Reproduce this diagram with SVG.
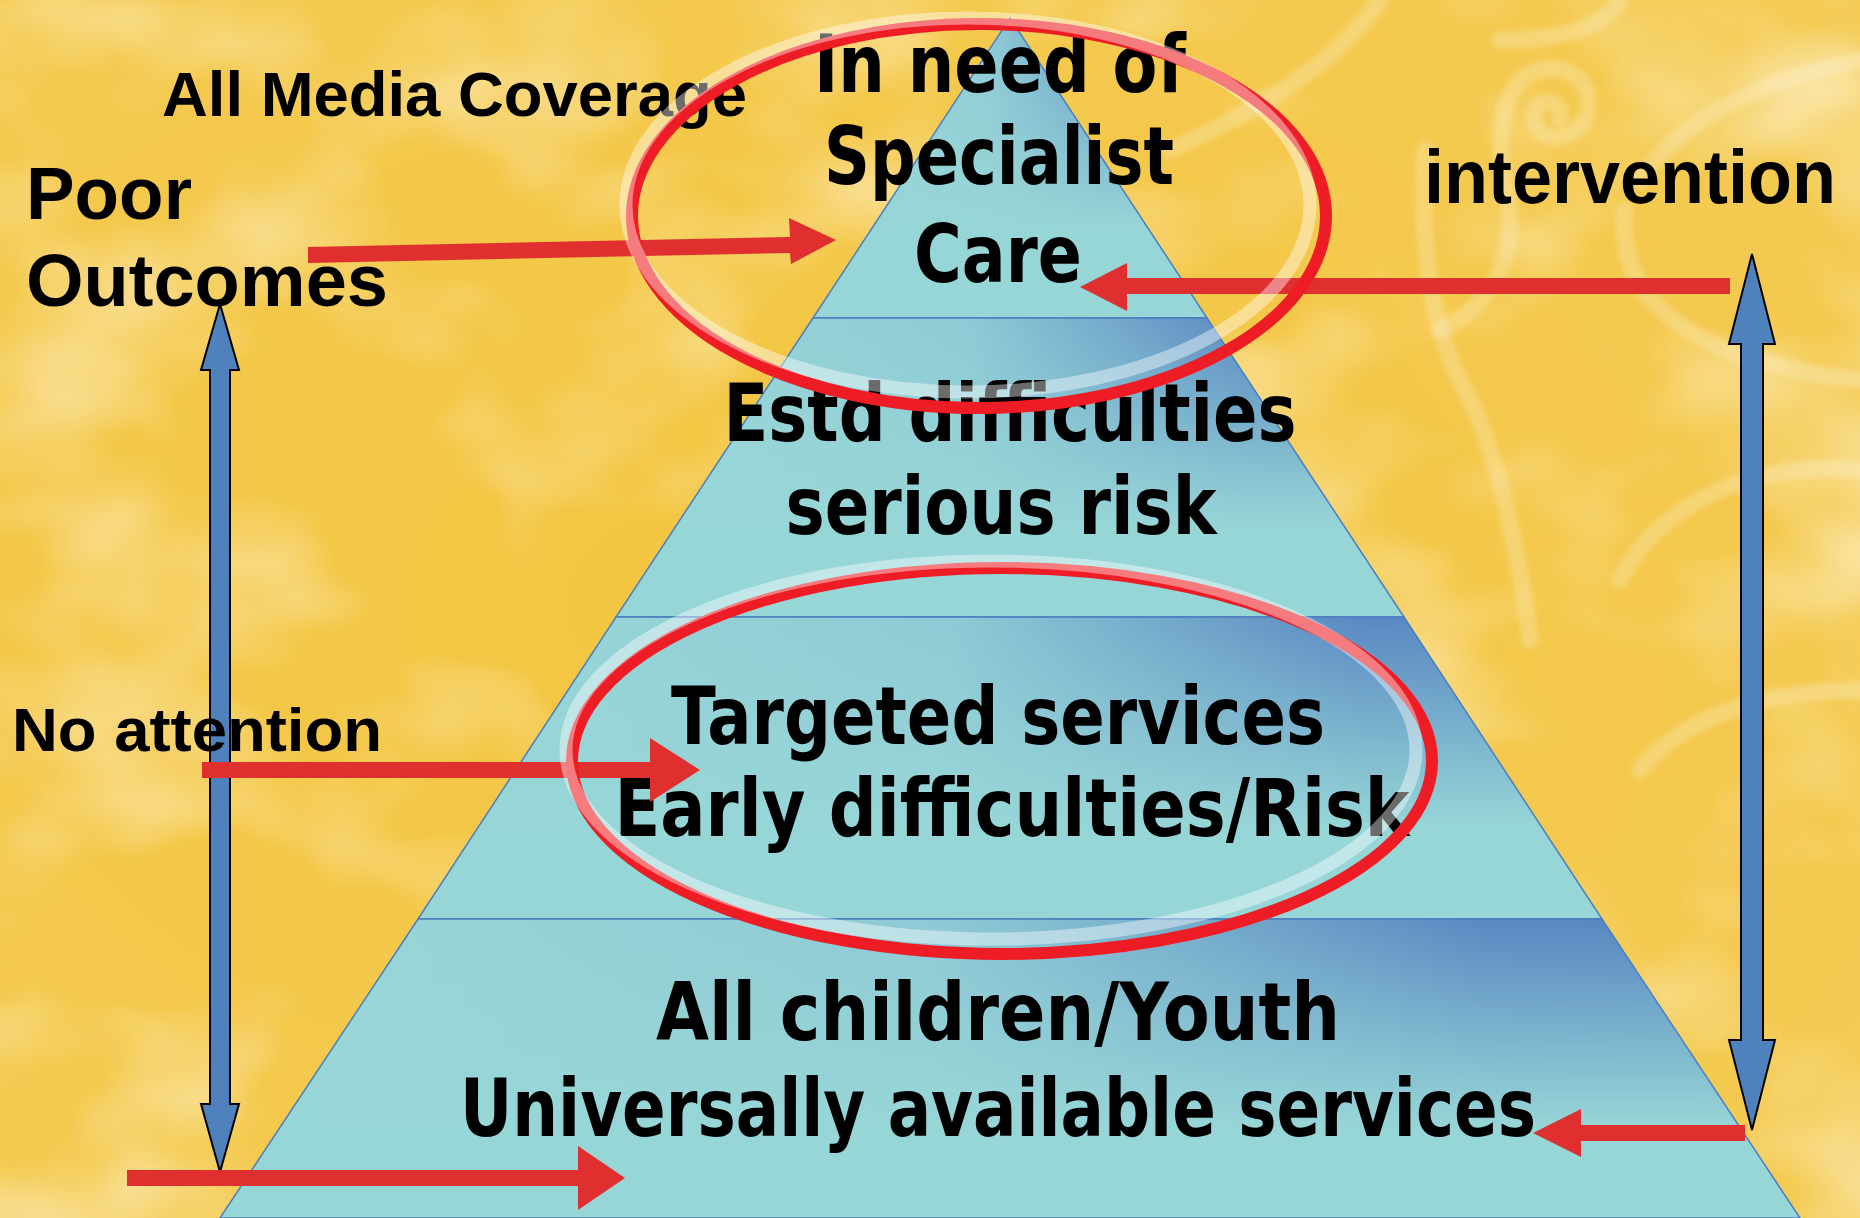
<svg xmlns="http://www.w3.org/2000/svg" width="1860" height="1218" viewBox="0 0 1860 1218">
<defs>
<style>
.lbl{font-family:"Liberation Sans",Arial,sans-serif;font-weight:bold;fill:#000}
.pt{font-family:"DejaVu Sans","Liberation Sans",sans-serif;font-weight:bold;fill:#000;font-size:80px;text-anchor:middle}
.red{fill:#E02F2F}
.blue{fill:#4F81BD;stroke:#000;stroke-width:2}
.ring{fill:none;stroke:#EE1C24;stroke-width:12}
.glow{fill:none;stroke:#FFFFFF;stroke-opacity:0.42;stroke-width:13}
.tier{stroke:#4A7EBF;stroke-width:1.5}
.swirl{fill:none;stroke:#FFFFFF;stroke-opacity:0.22;stroke-width:17;stroke-linecap:round}
</style>
<linearGradient id="gH" x1="0" y1="0" x2="1" y2="0">
<stop offset="0" stop-color="#9AD8D8"/>
<stop offset="0.45" stop-color="#8ECAD5"/>
<stop offset="0.8" stop-color="#5988C2"/>
<stop offset="1" stop-color="#5585C0"/>
</linearGradient>
<linearGradient id="gV" x1="0" y1="0" x2="0" y2="1">
<stop offset="0" stop-color="#97D6D7" stop-opacity="0"/>
<stop offset="0.7" stop-color="#97D6D7" stop-opacity="1"/>
<stop offset="1" stop-color="#97D6D7" stop-opacity="1"/>
</linearGradient>
<radialGradient id="bg" cx="0.4" cy="0.5" r="0.8">
<stop offset="0" stop-color="#F3C540"/>
<stop offset="1" stop-color="#F4CB55"/>
</radialGradient>
<filter id="mottle" x="0" y="0" width="1" height="1">
<feTurbulence type="fractalNoise" baseFrequency="0.004 0.006" numOctaves="3" seed="7" result="n"/>
<feColorMatrix in="n" type="matrix" values="0 0 0 0 1  0 0 0 0 0.93  0 0 0 0 0.72  1.6 0 0 0 -0.75" result="c"/>
<feComposite in="c" in2="SourceGraphic" operator="in"/>
</filter>
<filter id="soft"><feGaussianBlur stdDeviation="2.5"/></filter>
</defs>

<g id="background">
<rect width="1860" height="1218" fill="url(#bg)"/>
<rect width="1860" height="1218" fill="#fff" filter="url(#mottle)" opacity="0.9"/>
<g filter="url(#soft)">
<path class="swirl" d="M1380 0 C1340 60 1260 110 1170 150"/>
<path class="swirl" d="M1560 118 C1562 98 1536 96 1534 116 C1532 142 1574 146 1586 116 C1598 80 1562 58 1530 74 C1494 94 1498 150 1508 200 C1518 260 1486 310 1440 330"/>
<path class="swirl" d="M1425 150 C1420 250 1430 330 1470 400 C1500 460 1520 560 1530 640"/>
<path class="swirl" d="M1625 210 C1615 300 1690 360 1860 380"/>
<path class="swirl" d="M1860 60 C1760 80 1680 120 1640 180"/>
<path class="swirl" d="M1620 0 C1600 30 1560 40 1500 40"/>
<path class="swirl" d="M1860 470 C1760 460 1660 500 1620 580"/>
<path class="swirl" d="M1860 690 C1760 690 1680 720 1640 770"/>
</g>
</g>

<g id="pyramid">
<g id="tier1">
<polygon points="1010,18 1207,318 813,318" fill="url(#gH)"/>
<polygon points="1010,18 1207,318 813,318" fill="url(#gV)" class="tier"/>
</g>
<g id="tier2">
<polygon points="813,318 1207,318 1404,617 616,617" fill="url(#gH)"/>
<polygon points="813,318 1207,318 1404,617 616,617" fill="url(#gV)" class="tier"/>
</g>
<g id="tier3">
<polygon points="616,617 1404,617 1602,919 418,919" fill="url(#gH)"/>
<polygon points="616,617 1404,617 1602,919 418,919" fill="url(#gV)" class="tier"/>
</g>
<g id="tier4">
<polygon points="418,919 1602,919 1800,1218 220,1218" fill="url(#gH)"/>
<polygon points="418,919 1602,919 1800,1218 220,1218" fill="url(#gV)" class="tier"/>
</g>
</g>

<g id="connectors">
<g id="blue-left">
<polygon class="blue" points="220,304 239,370 230,370 230,1104 239,1104 220,1172 201,1104 210,1104 210,370 201,370"/>
</g>
<g id="blue-right">
<polygon class="blue" points="1752,254 1775,344 1763,344 1763,1040 1775,1040 1752,1130 1729,1040 1741,1040 1741,344 1729,344"/>
</g>
</g>

<g id="texts">
<text class="pt" x="1000" y="92" textLength="372" lengthAdjust="spacingAndGlyphs">In need of</text>
<text class="pt" x="999" y="184" textLength="350" lengthAdjust="spacingAndGlyphs">Specialist</text>
<text class="pt" x="998" y="282" textLength="168" lengthAdjust="spacingAndGlyphs">Care</text>
<text class="pt" x="1010" y="441" textLength="573" lengthAdjust="spacingAndGlyphs">Estd difficulties</text>
<text class="pt" x="1001" y="534" textLength="431" lengthAdjust="spacingAndGlyphs">serious risk</text>
<text class="pt" x="998" y="744" textLength="654" lengthAdjust="spacingAndGlyphs">Targeted services</text>
<text class="pt" x="1012" y="836" textLength="795" lengthAdjust="spacingAndGlyphs">Early difficulties/Risk</text>
<text class="pt" x="998" y="1040" textLength="684" lengthAdjust="spacingAndGlyphs">All children/Youth</text>
<text class="pt" x="998" y="1136" textLength="1076" lengthAdjust="spacingAndGlyphs">Universally available services</text>
<text class="lbl" x="162" y="116" font-size="63" textLength="585" lengthAdjust="spacingAndGlyphs">All Media Coverage</text>
<text class="lbl" x="26" y="219" font-size="74" textLength="166" lengthAdjust="spacingAndGlyphs">Poor</text>
<text class="lbl" x="26" y="306" font-size="74" textLength="362" lengthAdjust="spacingAndGlyphs">Outcomes</text>
<text class="lbl" x="1424" y="203" font-size="76" textLength="412" lengthAdjust="spacingAndGlyphs">intervention</text>
<text class="lbl" x="12" y="751" font-size="62" textLength="370" lengthAdjust="spacingAndGlyphs">No attention</text>
</g>

<g id="red-arrows">
<polygon class="red" points="308,247 790,237 789,218 836,240 791,264 790,253 308,263"/>
<polygon class="red" points="1730,278 1127,278 1127,263 1080,287 1127,311 1127,294 1730,294"/>
<polygon class="red" points="202,762 650,762 650,738 700,770 650,802 650,778 202,778"/>
<polygon class="red" points="127,1170 578,1170 578,1146 625,1178 578,1210 578,1186 127,1186"/>
<polygon class="red" points="1745,1125 1581,1125 1581,1109 1533,1133 1581,1157 1581,1141 1745,1141"/>
</g>

<g id="ellipses">
<ellipse class="ring" cx="979" cy="216" rx="347" ry="192"/>
<ellipse class="glow" cx="968" cy="205" rx="342" ry="187"/>
<ellipse class="ring" cx="1002" cy="761" rx="430" ry="193"/>
<ellipse class="glow" cx="991" cy="750" rx="425" ry="189"/>
</g>
</svg>
